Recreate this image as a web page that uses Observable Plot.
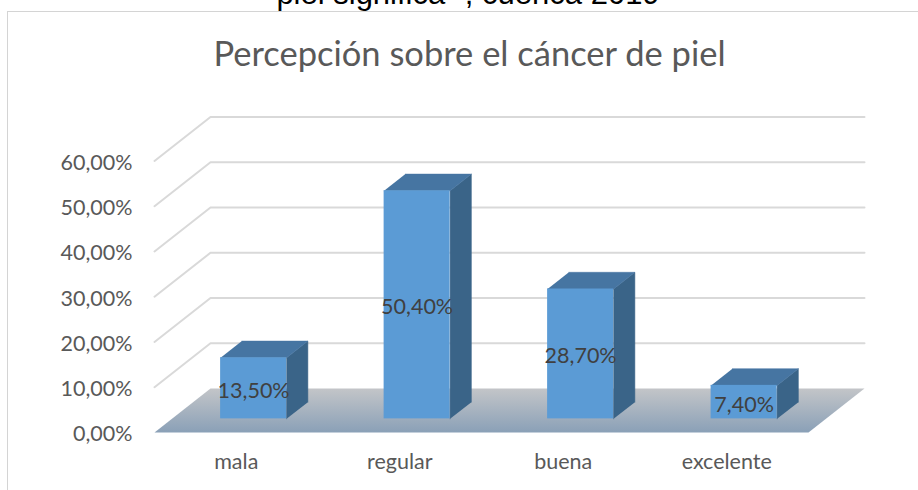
<!DOCTYPE html>
<html><head><meta charset="utf-8">
<script src="https://cdn.jsdelivr.net/npm/d3@7"></script>
<script src="https://cdn.jsdelivr.net/npm/@observablehq/plot@0.6"></script>
<style>
html,body{margin:0;padding:0;background:#fff;}
#page{position:relative;width:918px;height:490px;overflow:hidden;background:#fff;}
#cut{position:absolute;left:0;width:936px;top:-21.7px;text-align:center;font:31px/1 "Liberation Sans",Arial,sans-serif;color:#000;white-space:nowrap;}
#frame{position:absolute;left:7px;top:11px;width:1000px;height:1000px;border-left:1px solid #d4d4d4;border-top:1px solid #d4d4d4;}
#title{position:absolute;left:0;width:939px;top:36px;text-align:center;font:34.5px/1 Lato,sans-serif;color:#595959;white-space:nowrap;}
#chart{position:absolute;left:0;top:0;}
</style></head>
<body>
<div id="page">
  <div id="frame"></div>
  <div id="cut">piel significa" , cuenca 2019</div>
  <div id="title">Percepción sobre el cáncer de piel</div>
  <div id="chart"></div>
</div>
<script>
// ---- data ----
const categories = ["mala", "regular", "buena", "excelente"];
const values = [13.5, 50.4, 28.7, 7.4];           // percent
const yTicks = [0, 10, 20, 30, 40, 50, 60];

// ---- 3D (oblique) projection settings, in data units ----
const DX = 0.3425;   // category units shifted by full depth
const DY = 9.72;     // percent units shifted by full depth
const D0 = 0.31, D1 = 0.69; // bar front/back depth
const HW = 0.2018;   // half bar width (category units)
const fmt = v => v.toFixed(2).replace(".", ",") + "%";
const P = (x, v, d) => ({x: x + d * DX, y: v + d * DY});

// gridlines (front-left diagonal + back wall)
const grid = [];
yTicks.filter(v => v > 0).forEach(v => {
  [P(-0.5, v, 0), P(-0.5, v, 1), P(3.5, v, 1)].forEach(p => grid.push({...p, id: "g" + v}));
});
// floor
const floor = [P(-0.5, 0, 0), P(3.5, 0, 0), P(3.5, 0, 1), P(-0.5, 0, 1)];
// bars
const sides = [], tops = [], fronts = [];
values.forEach((v, i) => {
  const xL = i - HW, xR = i + HW;
  [P(xR, 0, D0), P(xR, v, D0), P(xR, v, D1), P(xR, 0, D1)].forEach(p => sides.push({...p, id: "s" + i}));
  [P(xL, v, D0), P(xR, v, D0), P(xR, v, D1), P(xL, v, D1)].forEach(p => tops.push({...p, id: "t" + i}));
  fronts.push({x1: xL + D0 * DX, x2: xR + D0 * DX, y1: D0 * DY, y2: v + D0 * DY,
               cx: i + D0 * DX, cy: D0 * DY + v / 2, label: fmt(v)});
});
const catData = categories.map((c, i) => ({x: i, y: 0, c}));
const tickData = yTicks.map(v => ({x: -0.5, y: v, t: fmt(v)}));

const svg = Plot.plot({
  width: 918, height: 490,
  marginLeft: 154, marginRight: 110, marginTop: 160.5, marginBottom: 58,
  x: {type: "linear", domain: [-0.5, 3.5], axis: null},
  y: {type: "linear", domain: [0, 60], axis: null},
  style: {fontFamily: "Lato, sans-serif", background: "transparent", overflow: "visible"},
  marks: [
    Plot.line(grid, {x: "x", y: "y", z: "id", stroke: "#d9d9d9", strokeWidth: 2}),
    Plot.line(floor, {x: "x", y: "y", fill: "url(#floorGrad)", stroke: "none"}),
    Plot.line(sides, {x: "x", y: "y", z: "id", fill: "#3a6488", stroke: "#3a6488", strokeWidth: 0.5}),
    Plot.line(tops, {x: "x", y: "y", z: "id", fill: "#4675a2", stroke: "#4675a2", strokeWidth: 0.5}),
    Plot.rect(fronts, {x1: "x1", x2: "x2", y1: "y1", y2: "y2", fill: "#5b9bd5"}),
    Plot.text(fronts, {x: "cx", y: "cy", text: "label", fontSize: 21.5, fill: "#404040", dy: 2.5}),
    Plot.text(tickData, {x: "x", y: "y", text: "t", fontSize: 21.5, fill: "#595959", textAnchor: "end", dx: -22, dy: 2}),
    Plot.text(catData, {x: "x", y: "y", text: "c", fontSize: 21.5, fill: "#595959", dy: 30})
  ]
});
const defs = d3.select(svg).insert("defs", ":first-child");
const lg = defs.append("linearGradient").attr("id", "floorGrad")
  .attr("x1", 0).attr("y1", 0).attr("x2", 0).attr("y2", 1);
lg.append("stop").attr("offset", "0%").attr("stop-color", "#c3c5c8");
lg.append("stop").attr("offset", "100%").attr("stop-color", "#8aa0b7");
document.getElementById("chart").appendChild(svg);
</script>
</body></html>
